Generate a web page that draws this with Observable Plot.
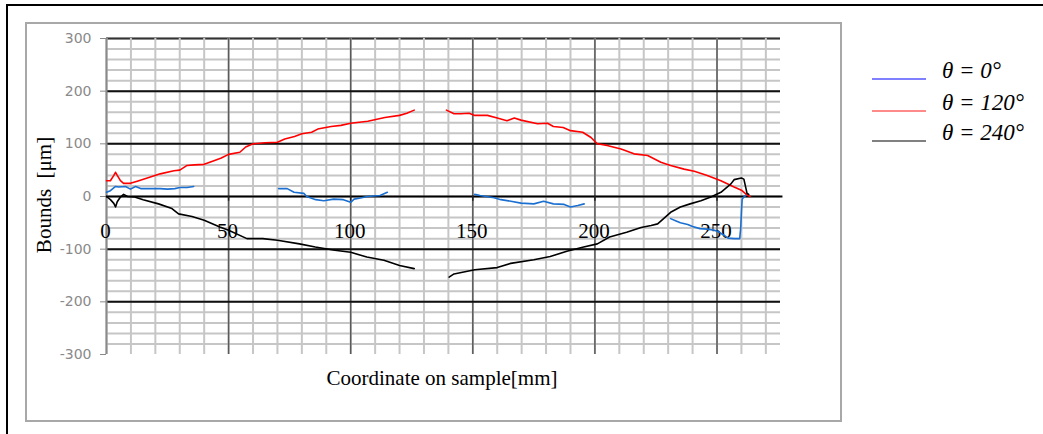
<!DOCTYPE html>
<html>
<head>
<meta charset="utf-8">
<script src="https://cdn.jsdelivr.net/npm/d3@7"></script>
<script src="https://cdn.jsdelivr.net/npm/@observablehq/plot@0.6"></script>
<style>
  html, body { margin: 0; padding: 0; background: #fff; }
  #wrap { position: relative; width: 1043px; height: 434px; overflow: hidden; background: #fff; }
  #wrap > svg { position: absolute; left: 0; top: 0; }
  .outer { position: absolute; left: 6px; top: 4px; width: 1200px; height: 600px; border-left: 2px solid #000; border-top: 2px solid #000; box-sizing: border-box; }
  .inner { position: absolute; left: 25px; top: 22px; width: 817px; height: 400px; border: 2px solid #a8a8a8; box-sizing: border-box; }
</style>
</head>
<body>
<div id="wrap">
  <div class="outer"></div>
  <div class="inner"></div>
</div>
<script>
// ---- data ----
const seriesNames = ["θ = 0°", "θ = 120°", "θ = 240°"];

const blueX = [0,1.6,3.7,5,7.8,9.8,11.9,14,18,22,25,28,30,33,35.7, null,
  70.5,74,76.8,80.8,82,85.7,89,93,97,100,101.4,104,106.8,112,115, null,
  150.8,153,158.7,161.5,165.6,169.7,175,179,183,187.4,190,193,195.6, null,
  231,233,235,238,240,243,246,249,251,253,254.5,257,259.3,259.7,260,260.3,261,262.5];
const blueY = [8,11,19,18,19,14,19,15,15,15,14,15,17,17,19, null,
  15,15,8,6,0,-6,-8,-5,-6,-11,-5,-3,0,2,8, null,
  4,2,-2.5,-6,-9,-12.6,-14,-9,-14,-15,-20,-17,-14, null,
  -42,-46,-50,-53,-57,-61,-62,-64,-68,-74,-79,-80,-80,-60,-30,-5,-1,5];

const redX = [0,1.6,3,3.7,4.4,5.7,7,9.8,12.6,16.7,22,27.6,30,33,36,40,44,47,50,54.6,57,60,65,70,73,77,80,84,86.5,92,96,100,107,114,120,123,126, null,
  139.2,142.3,145,148.5,150.8,156,160,164,167,169.7,176.5,180.6,183,187,190,195,198.4,201,205,210.7,216,221.6,227,231,236.5,240.7,246,251.6,257,260,262,263.5];
const redY = [30,30,40,46,40,30,25,25,29,35,43,49,50,59,60,61,68,73,80,84,94,100,102,103,109,114,119,122,128,133,135,139,143,150,154,158,164, null,
  164,157,157,158,154,154,149,144,149,145,138,139,133,131,125,122,112,100,97,90,81,78,65,59,52,48,40,30,18,12,4,0];

const blackX = [0,1.6,3,3.7,4.4,5.7,7,8.6,11.5,15,21.3,26.8,29.5,35,40,46.4,50,57.5,64,70,79,85.5,93.5,100,106.6,113.6,120,126, null,
  140.3,142.3,150.8,160,165.5,175,181.7,188.5,195.4,201,206,213,218.9,223,225.7,231,235,239,243.4,247.5,251.6,255.7,257,260,261,262.3,263];
const blackY = [0,-6,-13,-20,-10,-1,4,0,-1,-6,-14,-23,-33,-38,-45,-58,-64,-80,-80,-83,-90,-96,-102,-106,-115,-121,-131,-137, null,
  -153,-147,-139,-135,-127,-120,-114,-104,-96,-90,-77,-68,-59,-55,-52,-30,-20,-14,-8,-1,8,24,32,35,33,6,4];

// axis ticks
const xTickValues = [0, 50, 100, 150, 200, 250];
const xTickLabels = ["0", "50", "100", "150", "200", "250"];
const yTickValues = [-300, -200, -100, 0, 100, 200, 300];
const yTickLabels = ["-300", "-200", "-100", "0", "100", "200", "300"];

const seriesColors = ["#1a6fd1", "#ff0000", "#000000"];
const legendColors = ["#8080ff", "#ff8a8a", "#808080"];

// ---- build tables ----
const toRows = (xs, ys) => xs.map((x, i) => ({x, y: ys[i]}));
const blue = toRows(blueX, blueY);
const red = toRows(redX, redY);
const black = toRows(blackX, blackY);

const xMinor = d3.range(0, 271, 10);
const yMinor = d3.range(-280, 301, 20);
const yMajorInner = [-200, -100, 100, 200];

const serif = "'Liberation Serif', 'DejaVu Serif', serif";

const chart = Plot.plot({
  width: 1043,
  height: 434,
  marginLeft: 106,
  marginRight: 263,
  marginTop: 38,
  marginBottom: 80,
  x: {domain: [0, 276], axis: null},
  y: {domain: [-300, 300], axis: null},
  style: {background: "transparent", fontFamily: serif},
  marks: [
    Plot.ruleY(yMinor, {x1: 0, x2: 276, stroke: "#c6c6c6", strokeWidth: 2}),
    Plot.ruleY([300], {x1: 0, x2: 276, stroke: "#333", strokeWidth: 2}),
    Plot.ruleX(xMinor, {y1: -300, y2: 300, stroke: "#c6c6c6", strokeWidth: 2}),
    Plot.ruleX(xTickValues.slice(1), {y1: -300, y2: 300, stroke: "#5a5a5a", strokeWidth: 1.5}),
    Plot.ruleY(yMajorInner, {x1: 0, x2: 276, stroke: "#111", strokeWidth: 2}),
    Plot.ruleX([0], {y1: -300, y2: 300, stroke: "#8a8a8a", strokeWidth: 2}),
    Plot.axisY({ticks: yTickValues, tickFormat: (d) => yTickLabels[yTickValues.indexOf(d)], tickSize: 6, tickPadding: 9, color: "#8a8a8a", fontSize: 14, fontFamily: "'DejaVu Sans', sans-serif", label: null}),
    Plot.ruleY([0], {x1: 0, x2: 277, stroke: "#000", strokeWidth: 2}),
    Plot.ruleX(xTickValues.slice(1), {y1: 0, y2: -9, stroke: "#222", strokeWidth: 1.5}),
    Plot.text(xTickValues, {x: d => d, y: 0, text: (d, i) => xTickLabels[i], dy: 41, dx: -1, lineAnchor: "bottom", textAnchor: "middle", fontSize: 21, fontFamily: serif, fill: "#000"}),
    Plot.line(blue, {x: "x", y: "y", stroke: seriesColors[0], strokeWidth: 1.6}),
    Plot.line(red, {x: "x", y: "y", stroke: seriesColors[1], strokeWidth: 1.6}),
    Plot.line(black, {x: "x", y: "y", stroke: seriesColors[2], strokeWidth: 1.6})
  ]
});

const wrap = document.getElementById("wrap");
wrap.appendChild(chart);

// overlay: titles and legend
const ov = d3.select(wrap).append("svg")
  .attr("width", 1043).attr("height", 434)
  .style("position", "absolute").style("left", 0).style("top", 0);

ov.append("text")
  .attr("transform", "translate(51,195) rotate(-90)")
  .attr("text-anchor", "middle")
  .style("font-family", serif).style("font-size", "21px")
  .style("white-space", "pre")
  .text("Bounds  [μm]");

ov.append("text")
  .attr("x", 442).attr("y", 385)
  .attr("text-anchor", "middle")
  .style("font-family", serif).style("font-size", "21px")
  .text("Coordinate on sample[mm]");

const legendY = [79, 111, 141];
seriesNames.forEach((name, i) => {
  ov.append("line")
    .attr("x1", 872).attr("x2", 926)
    .attr("y1", legendY[i]).attr("y2", legendY[i])
    .attr("stroke", legendColors[i]).attr("stroke-width", 2);
  ov.append("text")
    .attr("x", 942).attr("y", legendY[i] - 1)
    .style("font-family", serif).style("font-size", "23px").style("font-style", "italic")
    .style("white-space", "pre")
    .text(name);
});
</script>
</body>
</html>
